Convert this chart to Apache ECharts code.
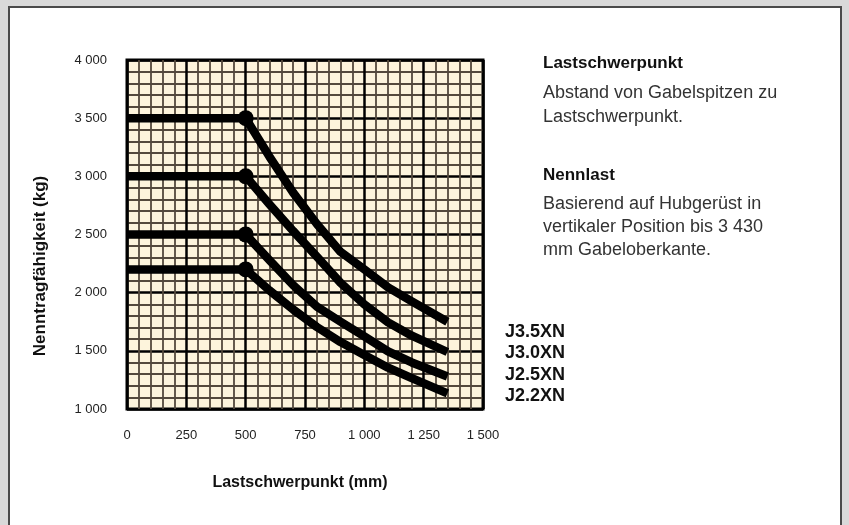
<!DOCTYPE html>
<html>
<head>
<meta charset="utf-8">
<script src="https://cdn.jsdelivr.net/npm/echarts@6/dist/echarts.min.js"></script>
<style>
  html, body { margin: 0; padding: 0; background: #d9d9d9; }
  #chart { width: 849px; height: 525px; }
</style>
</head>
<body>
<div id="chart"></div>
<script>
// Lastschwerpunkt (mm) -> Nenntragfähigkeit (kg)
const loadCenter = [0, 500, 600, 700, 800, 900, 1000, 1100, 1200, 1350]
const j35 = [3500, 3500, 3170, 2860, 2590, 2350, 2200, 2045, 1925, 1750]
const j30 = [3000, 3000, 2760, 2530, 2310, 2085, 1900, 1745, 1630, 1490]
const j25 = [2500, 2500, 2280, 2065, 1880, 1750, 1625, 1495, 1400, 1280]
const j22 = [2200, 2200, 2020, 1855, 1705, 1575, 1465, 1355, 1265, 1135]
const models = ['J3.5XN', 'J3.0XN', 'J2.5XN', 'J2.2XN']
const curves = [j35, j30, j25, j22]
const kneeIndex = 1 // Punkt bei 500 mm

const xTicks = { min: 0, max: 1500, interval: 250 }
const yTicks = { min: 1000, max: 4000, interval: 500 }

function fmt(v) {
  return String(v).replace(/\B(?=(\d{3})+(?!\d))/g, ' ')
}

let myChart = echarts.init(document.querySelector('#chart'))

//---------------Linien + Punkte---------------
let series = curves.map((vals, i) => ({
  name: models[i],
  type: 'line',
  data: vals.map((v, k) => [loadCenter[k], v]),
  showSymbol: false,
  lineStyle: { color: '#000', width: 8.5, cap: 'butt', join: 'round' },
  z: 5
}))
series.push({
  type: 'scatter',
  data: curves.map(vals => [loadCenter[kneeIndex], vals[kneeIndex]]),
  symbolSize: 16,
  itemStyle: { color: '#000', opacity: 1 },
  z: 6
})

const textFont = '"Liberation Sans", Arial, Helvetica, sans-serif'

let option = {
  backgroundColor: '#d9d9d9',
  animation: false,
  grid: {
    left: 127,
    right: 366,
    top: 60,
    bottom: 116,
    show: true,
    backgroundColor: '#fdf4dc',
    borderColor: '#000',
    borderWidth: 3
  },
  xAxis: {
    type: 'value',
    min: xTicks.min,
    max: xTicks.max,
    interval: xTicks.interval,
    axisLine: { show: false },
    axisTick: { show: false },
    axisLabel: {
      margin: 20,
      fontSize: 13,
      color: '#222',
      fontFamily: textFont,
      formatter: fmt
    },
    splitLine: { show: true, lineStyle: { color: '#000', width: 2.5 } },
    minorTick: { show: false, splitNumber: 5 },
    minorSplitLine: { show: true, lineStyle: { color: '#54493c', width: 1.8 } }
  },
  yAxis: {
    type: 'value',
    min: yTicks.min,
    max: yTicks.max,
    interval: yTicks.interval,
    axisLine: { show: false },
    axisTick: { show: false },
    axisLabel: {
      margin: 20,
      fontSize: 13,
      color: '#222',
      fontFamily: textFont,
      formatter: fmt
    },
    splitLine: { show: true, lineStyle: { color: '#000', width: 2.5 } },
    minorTick: { show: false, splitNumber: 5 },
    minorSplitLine: { show: true, lineStyle: { color: '#54493c', width: 1.8 } }
  },
  graphic: [
    // weisses Blatt
    {
      type: 'rect',
      z: -10,
      shape: { x: 9, y: 7, width: 832, height: 540 },
      style: { fill: '#fff', stroke: '#4a4a4a', lineWidth: 2 }
    },
    {
      type: 'text',
      x: 40, y: 266,
      rotation: Math.PI / 2,
      style: {
        text: 'Nenntragfähigkeit (kg)',
        font: 'bold 17px ' + textFont,
        fill: '#111',
        align: 'center', verticalAlign: 'middle'
      }
    },
    {
      type: 'text',
      x: 300, y: 483,
      style: {
        text: 'Lastschwerpunkt (mm)',
        font: 'bold 16px ' + textFont,
        fill: '#111',
        align: 'center', verticalAlign: 'middle'
      }
    },
    {
      type: 'text',
      x: 543, y: 63,
      style: {
        text: 'Lastschwerpunkt',
        font: 'bold 17px ' + textFont,
        fill: '#111',
        align: 'left', verticalAlign: 'middle'
      }
    },
    {
      type: 'text',
      x: 543, y: 81,
      style: {
        text: 'Abstand von Gabelspitzen zu\nLastschwerpunkt.',
        font: '18px ' + textFont,
        lineHeight: 24,
        fill: '#333',
        align: 'left', verticalAlign: 'top'
      }
    },
    {
      type: 'text',
      x: 543, y: 175,
      style: {
        text: 'Nennlast',
        font: 'bold 17px ' + textFont,
        fill: '#111',
        align: 'left', verticalAlign: 'middle'
      }
    },
    {
      type: 'text',
      x: 543, y: 193,
      style: {
        text: 'Basierend auf Hubgerüst in\nvertikaler Position bis 3 430\nmm Gabeloberkante.',
        font: '18px ' + textFont,
        lineHeight: 23,
        fill: '#333',
        align: 'left', verticalAlign: 'top'
      }
    }
  ].concat(models.map((m, i) => ({
    type: 'text',
    x: 505, y: 332 + i * 21.3,
    style: {
      text: m,
      font: 'bold 18px ' + textFont,
      fill: '#111',
      align: 'left', verticalAlign: 'middle'
    }
  }))),
  series: series
}
myChart.setOption(option)
</script>
</body>
</html>
